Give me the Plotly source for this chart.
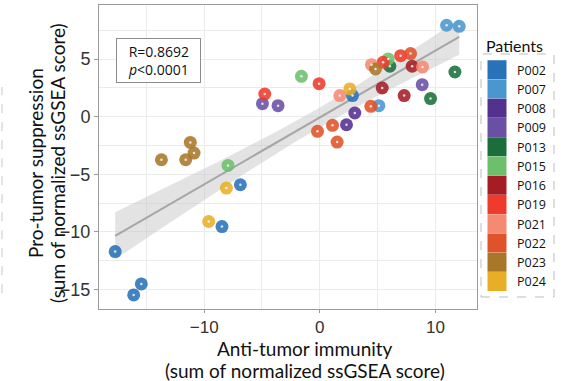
import numpy as np
import plotly.graph_objects as go

patients = ["P002", "P007", "P008", "P009", "P013", "P015", "P016", "P019", "P021", "P022", "P023", "P024"]
colors = ["#2a72b8", "#4a97cf", "#54308f", "#6a50a5", "#1a6e3a", "#6dbf6c", "#a51c24", "#ee3b2c", "#f58a72", "#e0522a", "#a8772a", "#e8ae25"]

anti_immunity = {
    "P002": [2.83, -6.87, -8.46, -17.7, -15.44, -16.1],
    "P007": [10.97, 12.06, 5.11],
    "P008": [3.03, 2.31],
    "P009": [-4.96, -3.61, 8.86],
    "P013": [6.06, 11.69, 9.58],
    "P015": [5.92, -1.59, -7.94],
    "P016": [7.99, 5.40, 7.30],
    "P019": [6.99, 5.48, -0.06, -4.76],
    "P021": [4.47, 8.89, 1.73],
    "P022": [7.85, 4.42, 1.10, -0.20, 1.50],
    "P023": [4.82, -11.2, -10.88, -11.6, -13.7],
    "P024": [2.60, -8.08, -9.61],
}
pro_suppression = {
    "P002": [1.83, -5.91, -9.54, -11.71, -14.52, -15.48],
    "P007": [7.94, 7.85, 0.96],
    "P008": [0.32, -0.70],
    "P009": [1.13, 0.96, 2.78],
    "P013": [4.38, 3.88, 1.57],
    "P015": [5.02, 3.51, -4.23],
    "P016": [4.38, 2.49, 1.83],
    "P019": [5.30, 4.72, 2.87, 1.97],
    "P021": [4.52, 4.32, 1.83],
    "P022": [5.48, 0.90, -0.75, -1.27, -2.20],
    "P023": [4.14, -2.23, -3.16, -3.74, -3.74],
    "P024": [2.41, -6.20, -9.10],
}
stats_text = ["R=0.8692", "<i>p</i><0.0001"]
x_title_lines = ["Anti-tumor immunity", "(sum of normalized ssGSEA score)"]
y_title_lines = ["Pro-tumor suppression", "(sum of normalized ssGSEA score)"]
legend_title = "Patients"

# Linear fit with 95% confidence band
xs = np.concatenate([anti_immunity[p] for p in patients])
ys = np.concatenate([pro_suppression[p] for p in patients])
n = len(xs)
slope, intercept = np.polyfit(xs, ys, 1)
resid = ys - (slope * xs + intercept)
s = np.sqrt(np.sum(resid ** 2) / (n - 2))
xg = np.linspace(xs.min(), xs.max(), 80)
yg = slope * xg + intercept
se = s * np.sqrt(1.0 / n + (xg - xs.mean()) ** 2 / np.sum((xs - xs.mean()) ** 2))
tval = 2.0195
lo, hi = yg - tval * se, yg + tval * se

fig = go.Figure()
fig.add_trace(go.Scatter(x=np.concatenate([xg, xg[::-1]]), y=np.concatenate([hi, lo[::-1]]),
                         fill="toself", fillcolor="rgba(200,200,200,0.5)", line=dict(width=0),
                         mode="lines", showlegend=False, hoverinfo="skip"))
fig.add_trace(go.Scatter(x=xg, y=yg, mode="lines", line=dict(color="#a6a6a6", width=2),
                         showlegend=False, hoverinfo="skip"))

for p, c in zip(patients, colors):
    fig.add_trace(go.Scatter(x=anti_immunity[p], y=pro_suppression[p], mode="markers",
                             marker=dict(color=c, size=13, opacity=0.88, line=dict(width=0)),
                             showlegend=False, name=p))
for p, c in zip(patients, colors):
    fig.add_trace(go.Scatter(x=anti_immunity[p], y=pro_suppression[p], mode="markers",
                             marker=dict(color="rgba(255,255,255,0.8)", size=2.5),
                             showlegend=False, hoverinfo="skip"))
for p, c in zip(patients, colors):
    fig.add_trace(go.Scatter(x=[None], y=[None], mode="markers", name=p,
                             marker=dict(color=c, size=16, symbol="square", line=dict(width=3, color=c))))

fig.add_annotation(xref="paper", yref="paper", x=0.045, y=0.819, xanchor="left", yanchor="middle",
                   text="<br>".join(stats_text), showarrow=False, align="center", width=77,
                   font=dict(family="Open Sans", size=14, color="#111"),
                   bordercolor="#8c8c8c", borderwidth=1, borderpad=3, bgcolor="white")

x_title_y = [-0.1283, -0.2015]
for txt, yy in zip(x_title_lines, x_title_y):
    fig.add_annotation(xref="paper", yref="paper", x=0.545, y=yy, xanchor="center", yanchor="middle",
                       text=txt, showarrow=False, font=dict(family="Lato", size=19, color="#111"))
y_title_x = [-0.1693, -0.1111]
for txt, xx in zip(y_title_lines, y_title_x):
    fig.add_annotation(xref="paper", yref="paper", x=xx, y=0.480, xanchor="center", yanchor="middle",
                       text=txt, showarrow=False, textangle=-90,
                       font=dict(family="Lato", size=19, color="#111"))
fig.add_annotation(xref="paper", yref="paper", x=1.0185, y=0.868, xanchor="left", yanchor="middle",
                   text=legend_title, showarrow=False, font=dict(family="Lato", size=16, color="#111"))

fig.add_shape(type="rect", xref="paper", yref="paper", x0=1.0106, x1=1.2037, y0=0.0395, y1=0.8388,
              line=dict(color="#bdbdbd", width=1, dash="dash"))
fig.add_shape(type="line", xref="paper", yref="paper", x0=-0.2566, x1=-0.2566, y0=0.052, y1=0.73,
              line=dict(color="#c8c8c8", width=1, dash="dash"))

fig.update_layout(
    width=576, height=381,
    margin=dict(l=99, r=99, t=5, b=72, autoexpand=False),
    paper_bgcolor="white", plot_bgcolor="white",
    font=dict(family="Liberation Sans", color="#333"),
    legend=dict(font=dict(family="Open Sans", size=12.5, color="#111"),
                x=1.0, y=0.835, xanchor="left", yanchor="top",
                itemwidth=30, tracegroupgap=0, bgcolor="rgba(0,0,0,0)"),
    xaxis=dict(range=[-19.1, 13.6], dtick=10, tick0=0, showgrid=True, gridcolor="#ebebeb",
               minor=dict(dtick=5, showgrid=True, gridcolor="#ebebeb"),
               zeroline=False, showline=True, linecolor="#9a9a9a", mirror=True,
               ticks="outside", ticklen=3, tickcolor="#9a9a9a", automargin=False,
               tickfont=dict(family="Liberation Sans", size=17, color="#333")),
    yaxis=dict(range=[-16.7, 9.7], dtick=5, tick0=0, showgrid=True, gridcolor="#ebebeb",
               minor=dict(dtick=2.5, showgrid=True, gridcolor="#ebebeb"),
               zeroline=False, showline=True, linecolor="#9a9a9a", mirror=True,
               ticks="outside", ticklen=4, tickcolor="#9a9a9a", automargin=False,
               tickfont=dict(family="Liberation Sans", size=18, color="#333")),
)

fig.write_html("out.html", config={"displayModeBar": False},
               post_script="document.body.style.margin='0px';")
